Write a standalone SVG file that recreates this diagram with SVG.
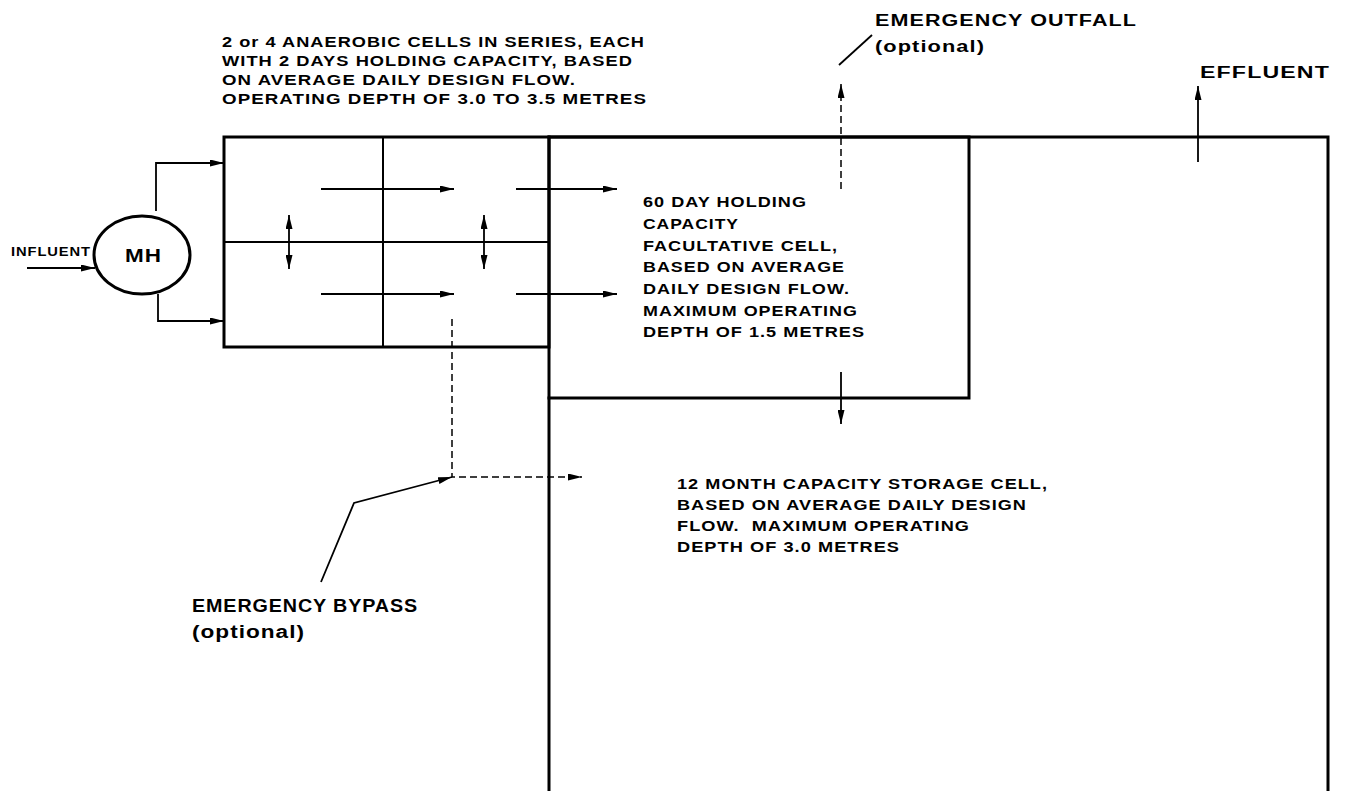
<svg xmlns="http://www.w3.org/2000/svg" width="1349" height="791" viewBox="0 0 1349 791">
<style>
.t{font-family:"Liberation Sans",Arial,sans-serif;font-weight:bold;fill:#000;letter-spacing:0.8px}
.s{font-size:14px}
.m{font-size:16px}
.l{font-size:18px}
.wall{stroke:#000;stroke-width:3;fill:none;stroke-linecap:square}
.thin{stroke:#000;stroke-width:2;fill:none}
.arr{stroke:#000;stroke-width:1.8;fill:none}
.dash{stroke:#000;stroke-width:1.5;fill:none;stroke-dasharray:7 4}
</style>
<defs>
<marker id="ah" viewBox="0 0 14 7" refX="14" refY="3.5" markerWidth="14" markerHeight="7" markerUnits="userSpaceOnUse" orient="auto-start-reverse">
<path d="M0,0 L14,3.5 L0,7 Z" fill="#000"/>
</marker>
</defs>
<rect width="1349" height="791" fill="#fff"/>

<g id="anaerobic-cells">
<rect x="224" y="137" width="325" height="210" class="wall"/>
<line x1="383" y1="137" x2="383" y2="347" class="thin"/>
<line x1="224" y1="242" x2="549" y2="242" class="thin"/>
<text class="t s" x="222" y="47" textLength="423" lengthAdjust="spacingAndGlyphs">2 or 4 ANAEROBIC CELLS IN SERIES, EACH</text>
<text class="t s" x="222" y="66" textLength="411" lengthAdjust="spacingAndGlyphs">WITH 2 DAYS HOLDING CAPACITY, BASED</text>
<text class="t s" x="222" y="85" textLength="354" lengthAdjust="spacingAndGlyphs">ON AVERAGE DAILY DESIGN FLOW.</text>
<text class="t s" x="222" y="104" textLength="425" lengthAdjust="spacingAndGlyphs">OPERATING DEPTH OF 3.0 TO 3.5 METRES</text>
</g>

<g id="facultative-cell">
<polyline points="549,137 969,137 969,398 549,398" class="wall"/>
<text class="t s" x="643" y="207" textLength="164" lengthAdjust="spacingAndGlyphs">60 DAY HOLDING</text>
<text class="t s" x="643" y="229" textLength="96" lengthAdjust="spacingAndGlyphs">CAPACITY</text>
<text class="t s" x="643" y="251" textLength="195" lengthAdjust="spacingAndGlyphs">FACULTATIVE CELL,</text>
<text class="t s" x="643" y="272" textLength="202" lengthAdjust="spacingAndGlyphs">BASED ON AVERAGE</text>
<text class="t s" x="643" y="294" textLength="207" lengthAdjust="spacingAndGlyphs">DAILY DESIGN FLOW.</text>
<text class="t s" x="643" y="316" textLength="215" lengthAdjust="spacingAndGlyphs">MAXIMUM OPERATING</text>
<text class="t s" x="643" y="337" textLength="222" lengthAdjust="spacingAndGlyphs">DEPTH OF 1.5 METRES</text>
</g>

<g id="storage-cell">
<polyline points="549,791 549,137 1328,137 1328,791" class="wall"/>
<text class="t s" x="677" y="489" textLength="371" lengthAdjust="spacingAndGlyphs">12 MONTH CAPACITY STORAGE CELL,</text>
<text class="t s" x="677" y="510" textLength="350" lengthAdjust="spacingAndGlyphs">BASED ON AVERAGE DAILY DESIGN</text>
<text class="t s" x="677" y="531" textLength="293" lengthAdjust="spacingAndGlyphs">FLOW.&#160; MAXIMUM OPERATING</text>
<text class="t s" x="677" y="552" textLength="223" lengthAdjust="spacingAndGlyphs">DEPTH OF 3.0 METRES</text>
</g>

<g id="manhole">
<ellipse cx="142" cy="255" rx="48" ry="39" class="wall"/>
<text class="t l" x="125" y="262" textLength="37" lengthAdjust="spacingAndGlyphs">MH</text>
</g>

<g id="influent-label">
<text class="t" style="font-size:13px" x="11" y="256" textLength="80" lengthAdjust="spacingAndGlyphs">INFLUENT</text>
</g>

<g id="effluent-label">
<text class="t m" x="1200" y="78" textLength="130" lengthAdjust="spacingAndGlyphs">EFFLUENT</text>
</g>

<g id="outfall-label">
<text class="t m" x="875" y="26" textLength="262" lengthAdjust="spacingAndGlyphs">EMERGENCY OUTFALL</text>
<text class="t m" x="875" y="52" textLength="110" lengthAdjust="spacingAndGlyphs">(optional)</text>
</g>

<g id="bypass-label">
<text class="t l" x="192" y="612" textLength="226" lengthAdjust="spacingAndGlyphs">EMERGENCY BYPASS</text>
<text class="t l" x="192" y="638" textLength="113" lengthAdjust="spacingAndGlyphs">(optional)</text>
</g>

<g id="connectors">
<line x1="27" y1="268" x2="95" y2="268" class="arr" marker-end="url(#ah)"/>
<polyline points="156,211 156,163 224,163" class="arr" marker-end="url(#ah)"/>
<polyline points="158,294 158,321 224,321" class="arr" marker-end="url(#ah)"/>
<line x1="321" y1="189" x2="454" y2="189" class="arr" marker-end="url(#ah)"/>
<line x1="516" y1="189" x2="617" y2="189" class="arr" marker-end="url(#ah)"/>
<line x1="321" y1="294" x2="454" y2="294" class="arr" marker-end="url(#ah)"/>
<line x1="516" y1="294" x2="617" y2="294" class="arr" marker-end="url(#ah)"/>
<line x1="289" y1="215" x2="289" y2="269" class="arr" marker-start="url(#ah)" marker-end="url(#ah)"/>
<line x1="484" y1="215" x2="484" y2="269" class="arr" marker-start="url(#ah)" marker-end="url(#ah)"/>
<line x1="841" y1="372" x2="841" y2="424" class="arr" marker-end="url(#ah)"/>
<line x1="1198" y1="162" x2="1198" y2="86" class="arr" marker-end="url(#ah)"/>
<line x1="841" y1="189" x2="841" y2="84" class="dash" marker-end="url(#ah)"/>
<line x1="839" y1="65" x2="872" y2="35" class="arr"/>
<polyline points="452,319 452,477 582,477" class="dash" marker-end="url(#ah)"/>
<polyline points="321,582 354,503 452,477" class="arr" marker-end="url(#ah)"/>
</g>
</svg>
